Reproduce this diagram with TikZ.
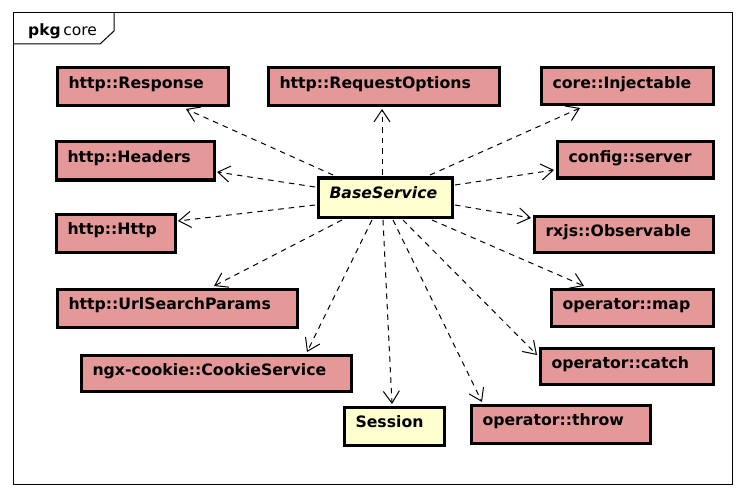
\documentclass[tikz,border=0pt]{standalone}
\usepackage{fontspec}
\setmainfont{DejaVu Sans}
\usetikzlibrary{arrows.meta,calc}
\definecolor{clspink}{RGB}{228,152,152}
\definecolor{clsyellow}{RGB}{254,254,206}
\tikzset{
  umlcls/.style={draw=black, line width=3pt, inner xsep=11.5pt, inner ysep=0pt,
    align=left, font=\bfseries\fontsize{15.7}{18}\selectfont, anchor=north west},
  pinkcls/.style={umlcls, fill=clspink},
  yelcls/.style={umlcls, fill=clsyellow},
  dep/.style={draw=black, line width=1pt, dash pattern=on 5.5pt off 5pt,
    -{Straight Barb[length=12pt,width=16pt,line width=1pt]}},
}
\newcommand\umlbox[7]{%
  \pgfmathsetmacro\bw{#5-#3-3-23}%
  \pgfmathsetmacro\bd{#6-#4-3-20.5}%
  \node[#2, text width=\bw pt, text height=20.5pt, text depth=\bd pt] (#1) at (#3+1.5,#4+1.5) {#7};%
}
\begin{document}
\begin{tikzpicture}[x=1pt,y=-1pt]
\useasboundingbox (0,0) rectangle (746,497);
\fill[white] (0,0) rectangle (746,497);
% frame
\draw[line width=1pt] (13,13) rectangle (732,484);
\draw[line width=1pt] (13,44) -- (100,44) -- (114,31) -- (114,13);
\node[anchor=base west, inner sep=0pt, font=\fontsize{15.5}{18}\selectfont] (lbl) at (28,36) {\textbf{pkg}\,core};
% classes
\umlbox{resp}{pinkcls}{54}{65}{228}{106}{http::Response}
\umlbox{reqopt}{pinkcls}{265}{65}{499}{106}{http::RequestOptions}
\umlbox{inject}{pinkcls}{538}{65}{713}{105}{core::Injectable}
\umlbox{headers}{pinkcls}{53}{139}{214}{180}{http::Headers}
\umlbox{config}{pinkcls}{554}{139}{713}{178}{config::server}
\umlbox{base}{yelcls}{315}{175}{452}{217}{\textit{BaseService}}
\umlbox{http}{pinkcls}{53}{211}{175}{252}{http::Http}
\umlbox{rx}{pinkcls}{531}{213}{713}{252}{rxjs::Observable}
\umlbox{url}{pinkcls}{54}{286}{297}{327}{http::UrlSearchParams}
\umlbox{map}{pinkcls}{548}{286}{713}{326}{operator::map}
\umlbox{cookie}{pinkcls}{78}{352}{351}{391}{ngx-cookie::CookieService}
\umlbox{catch}{pinkcls}{537}{345}{713}{384}{operator::catch}
\umlbox{session}{yelcls}{341}{404}{444}{445}{Session}
\umlbox{throw}{pinkcls}{468}{402}{650}{443}{operator::throw}
% dependencies
\draw[dep] ($(base.north west)+(16.5,-1.5)$) -- ($(resp.south west)+(130.5,1.5)$);
\draw[dep] ($(base.north west)+(65.5,-1.5)$) -- ($(reqopt.south west)+(115.5,1.5)$);
\draw[dep] ($(base.north west)+(113.5,-1.5)$) -- ($(inject.south west)+(40.5,1.5)$);
\draw[dep] ($(base.north west)+(-1.5,10.5)$) -- ($(headers.north east)+(1.5,31.5)$);
\draw[dep] ($(base.north west)+(-1.5,28.5)$) -- ($(http.north east)+(1.5,8.5)$);
\draw[dep] ($(base.north east)+(1.5,8.5)$) -- ($(config.north west)+(-1.5,29.5)$);
\draw[dep] ($(base.north east)+(1.5,28.5)$) -- ($(rx.north west)+(-1.5,3.5)$);
\draw[dep] ($(base.south west)+(25.5,1.5)$) -- ($(url.north west)+(158.5,-1.5)$);
\draw[dep] ($(base.south west)+(55.5,1.5)$) -- ($(cookie.north west)+(227.5,-1.5)$);
\draw[dep] ($(base.south west)+(66.5,1.5)$) -- ($(session.north west)+(49.5,-1.5)$);
\draw[dep] ($(base.south west)+(76.5,1.5)$) -- ($(throw.north west)+(12.5,-1.5)$);
\draw[dep] ($(base.south west)+(86.5,1.5)$) -- ($(catch.north west)+(-1.5,8.5)$);
\draw[dep] ($(base.south west)+(115.5,1.5)$) -- ($(map.north west)+(34.5,-1.5)$);
\end{tikzpicture}
\end{document}
